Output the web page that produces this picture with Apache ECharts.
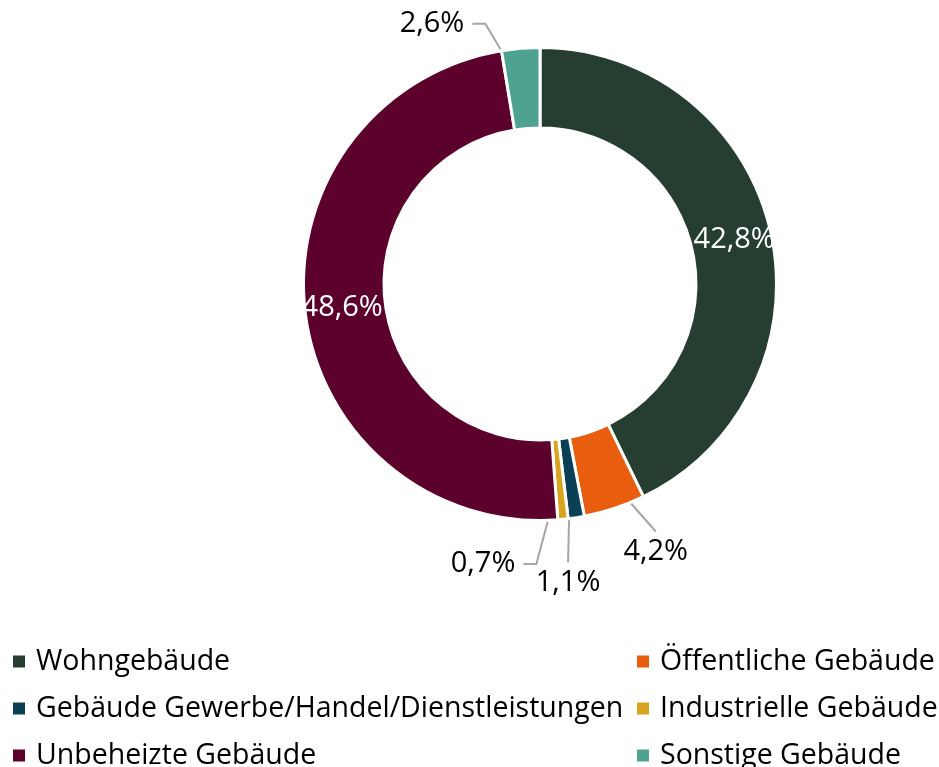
<!DOCTYPE html>
<html>
<head>
<meta charset="utf-8">
<script src="https://cdn.jsdelivr.net/npm/echarts@6/dist/echarts.min.js"></script>
<style>
  html, body { margin: 0; padding: 0; background: #fff; }
  #chart { width: 939px; height: 767px; }
</style>
</head>
<body>
<div id="chart"></div>
<script>
// Gebäudekategorien und Anteile (%)
const categories = [
  'Wohngebäude',
  'Öffentliche Gebäude',
  'Gebäude Gewerbe/Handel/Dienstleistungen',
  'Industrielle Gebäude',
  'Unbeheizte Gebäude',
  'Sonstige Gebäude'
];
const shares = [42.8, 4.2, 1.1, 0.7, 48.6, 2.6];
const colors = ['#263D32', '#E85D0E', '#0A3F55', '#D9A420', '#5C002C', '#4DA38F'];

// Legend columns
const legendLeft = ['Wohngebäude', 'Gebäude Gewerbe/Handel/Dienstleistungen', 'Unbeheizte Gebäude'];
const legendRight = ['Öffentliche Gebäude', 'Industrielle Gebäude', 'Sonstige Gebäude'];

// Slices whose label sits inside the ring
const insideLabels = [0, 4];

const FONT = '"Open Sans", "Noto Sans", sans-serif';
const fmt = v => v.toFixed(1).replace('.', ',') + '%';

const data = categories.map((name, i) => ({
  name,
  value: shares[i],
  itemStyle: { color: colors[i] }
}));

// Outside label placement relative to the anchor in the ring, plus leader line shape
const outsideLayout = {
  5: { dx: -92, dy: -65, line: 'right-elbow' },
  1: { dx: 54, dy: 82, line: 'top' },
  2: { dx: -2, dy: 105, line: 'top' },
  3: { dx: -76, dy: 85, line: 'right-elbow' }
};

const chart = echarts.init(document.getElementById('chart'), null, { renderer: 'canvas' });

const center = [540, 284];

const legendBase = {
  orient: 'vertical',
  top: 642,
  height: 130,
  itemWidth: 14,
  itemHeight: 14,
  itemGap: 18,
  icon: 'rect',
  selectedMode: false,
  textStyle: { fontFamily: FONT, fontSize: 28.5, color: '#000', padding: [0, 0, 0, 5] }
};

chart.setOption({
  backgroundColor: '#fff',
  animation: false,
  legend: [
    Object.assign({}, legendBase, { left: 6, data: legendLeft }),
    Object.assign({}, legendBase, { left: 630, data: legendRight })
  ],
  series: [
    {
      type: 'pie',
      center,
      radius: [156, 236.5],
      startAngle: 90,
      clockwise: true,
      silent: true,
      itemStyle: { borderColor: '#fff', borderWidth: 3 },
      data: data.map((d, i) => Object.assign({}, d, {
        label: {
          show: insideLabels.includes(i),
          position: 'inside',
          formatter: p => fmt(p.value),
          color: '#fff',
          fontFamily: FONT,
          fontSize: 29
        }
      })),
      labelLine: { show: false }
    },
    {
      // transparent pie reaching to mid-ring, used to anchor leader lines
      type: 'pie',
      center,
      radius: [0, 196],
      startAngle: 90,
      clockwise: true,
      silent: true,
      legendHoverLink: false,
      itemStyle: { color: 'rgba(0,0,0,0)', borderWidth: 0 },
      data: data.map((d, i) => ({
        name: d.name,
        value: d.value,
        label: { show: !insideLabels.includes(i) },
        labelLine: { show: !insideLabels.includes(i) }
      })),
      label: {
        position: 'outside',
        formatter: p => fmt(p.value),
        color: '#000',
        fontFamily: FONT,
        fontSize: 29
      },
      labelLine: {
        length: 10,
        length2: 10,
        lineStyle: { color: '#A6A6A6', width: 2 }
      }
    }
  ]
});

chart.setOption({
  series: [{}, {
    labelLayout: function (params) {
      const cfg = outsideLayout[params.dataIndex];
      if (!cfg || !params.labelLinePoints) return {};
      const a = params.labelLinePoints[0];
      const cx = a[0] + cfg.dx;
      const cy = a[1] + cfg.dy;
      const w = params.labelRect.width;
      const h = params.labelRect.height;
      let pts;
      if (cfg.line === 'right-elbow') {
        const endX = cx + w / 2 + 8;
        pts = [a, [endX + 13, cy], [endX, cy]];
      } else {
        const endY = cy - h / 2 - 6;
        pts = [a, [cx, endY]];
      }
      return {
        x: cx,
        y: cy,
        align: 'center',
        verticalAlign: 'middle',
        labelLinePoints: pts
      };
    }
  }]
});
</script>
</body>
</html>
